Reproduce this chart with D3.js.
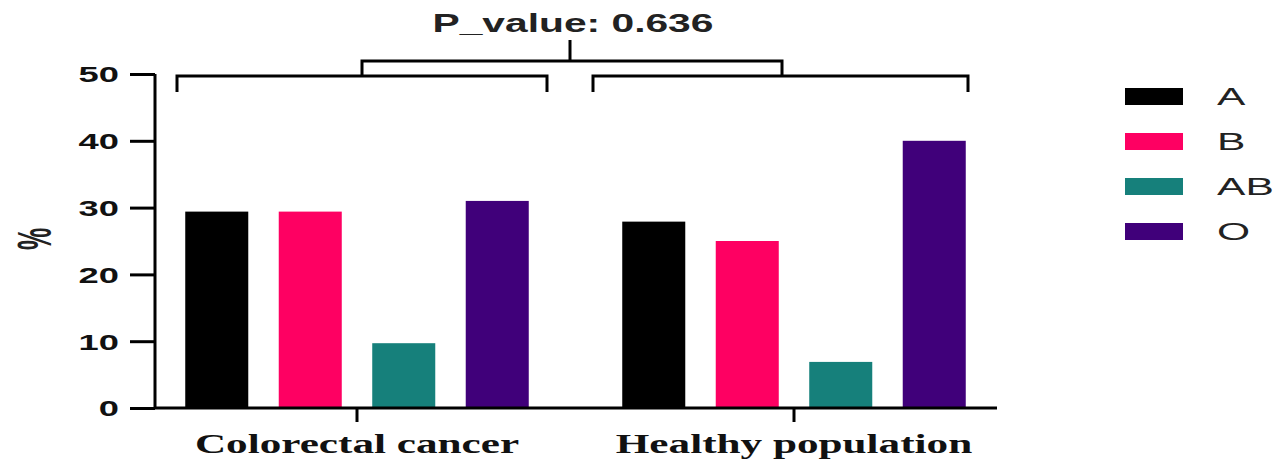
<!DOCTYPE html>
<html>
<head>
<meta charset="utf-8">
<script src="https://cdn.jsdelivr.net/npm/d3@7"></script>
<style>
  html, body { margin: 0; padding: 0; background: #fff; }
  svg { display: block; }
</style>
</head>
<body>
<svg id="chart" width="1286" height="464"></svg>
<script>
// ---- data ----
const groups = ["Colorectal cancer", "Healthy population"];
const bloodTypes = ["A", "B", "AB", "O"];
const colorectalValues = [29.4, 29.4, 9.7, 31.0];
const healthyValues = [27.9, 25.0, 6.9, 40.0];
const typeColors = ["#000000", "#fe0062", "#16807b", "#40007a"];
const yTicks = [0, 10, 20, 30, 40, 50];
const pValueLabel = "P_value: 0.636";

const seriesByGroup = [colorectalValues, healthyValues];
const rows = [];
groups.forEach((g, gi) => bloodTypes.forEach((t, ti) => rows.push({ group: g, type: t, value: seriesByGroup[gi][ti] })));

const svg = d3.select("#chart");
const sansFont = "'Liberation Sans', Arial, sans-serif";
const serifFont = "'Liberation Serif', 'Times New Roman', serif";

function stretch(sel, f) {
  sel.each(function () {
    const w = this.getComputedTextLength();
    d3.select(this).attr("textLength", w * f).attr("lengthAdjust", "spacingAndGlyphs");
  });
}

// ---- scales ----
const y = d3.scaleLinear().domain([0, 50]).range([408, 74]);
const x0 = d3.scaleBand().domain(groups).range([138.5, 1012.5]).padding(0);
const x1 = d3.scaleBand().domain(bloodTypes).range([0, x0.bandwidth()]).paddingInner(0.326).paddingOuter(0.5);
const color = d3.scaleOrdinal().domain(bloodTypes).range(typeColors);

const axisLeftX = 155, axisRightX = 997;

// ---- bars ----
svg.append("g").selectAll("rect").data(rows).join("rect")
  .attr("x", d => x0(d.group) + x1(d.type))
  .attr("width", x1.bandwidth())
  .attr("y", d => y(d.value))
  .attr("height", d => y(0) - y(d.value))
  .attr("fill", d => color(d.type));

// ---- y axis ----
const yAxis = svg.append("g").attr("transform", `translate(${axisLeftX},0)`)
  .call(d3.axisLeft(y).tickValues(yTicks).tickSize(25).tickPadding(11));
yAxis.select(".domain").attr("stroke", "#000").attr("stroke-width", 3).attr("d", `M0,${y(50)}V${y(0)}`);
yAxis.selectAll(".tick line").attr("stroke", "#000").attr("stroke-width", 3);
yAxis.selectAll(".tick text")
  .attr("font-family", sansFont).attr("font-weight", "bold").attr("font-size", 22)
  .attr("fill", "#111").attr("dy", "0.36em");
stretch(yAxis.selectAll(".tick text"), 1.65);

// y title
svg.append("text")
  .attr("transform", "translate(34,239) scale(1.9,1) rotate(-90)")
  .attr("text-anchor", "middle").attr("dy", "0.35em")
  .attr("font-family", sansFont).attr("font-weight", "bold").attr("font-size", 25)
  .attr("fill", "#222").text("%");

// ---- x axis ----
const xAxis = svg.append("g").attr("transform", `translate(0,${y(0)})`)
  .call(d3.axisBottom(x0).tickSize(14));
xAxis.select(".domain").attr("stroke", "#000").attr("stroke-width", 3).attr("d", `M${axisLeftX},0H${axisRightX}`);
xAxis.selectAll(".tick line").attr("stroke", "#000").attr("stroke-width", 3);
xAxis.selectAll(".tick text")
  .attr("y", 45).attr("dy", 0)
  .attr("font-family", serifFont).attr("font-weight", "bold").attr("font-size", 27)
  .attr("fill", "#111");
stretch(xAxis.selectAll(".tick text"), 1.6);

// ---- brackets ----
const bracketG = svg.append("g").attr("fill", "none").attr("stroke", "#000").attr("stroke-width", 3);
const lowY = 76, legBottom = 92, upY = 61;
// bracket extents relative to each group's band start
const bracketSpan = [[38.5, 408.5], [17.5, 392.5]];
groups.forEach((g, i) => {
  const a = x0(g) + bracketSpan[i][0], b = x0(g) + bracketSpan[i][1];
  bracketG.append("path").attr("d", `M${a},${legBottom}V${lowY}H${b}V${legBottom}`);
});
const mid = g => x0(g) + x0.bandwidth() / 2;
const upL = mid(groups[0]) + 5, upR = mid(groups[1]) - 12;
bracketG.append("path").attr("d", `M${upL},${lowY}V${upY}H${upR}V${lowY}`);
const centerX = 570;
bracketG.append("path").attr("d", `M${centerX},${upY}V${40}`);

const pText = svg.append("text")
  .attr("x", centerX + 3).attr("y", 32).attr("text-anchor", "middle")
  .attr("font-family", sansFont).attr("font-weight", "bold").attr("font-size", 25)
  .attr("fill", "#222").text(pValueLabel);
stretch(pText, 1.63);

// ---- legend ----
const legend = svg.append("g").attr("transform", "translate(1125,88)");
const items = legend.selectAll("g").data(bloodTypes).join("g")
  .attr("transform", (d, i) => `translate(0,${i * 45})`);
items.append("rect").attr("width", 58).attr("height", 17).attr("fill", d => color(d));
const lt = items.append("text").attr("x", 92).attr("y", 17)
  .attr("font-family", sansFont).attr("font-size", 23).attr("fill", "#222")
  .text(d => d);
stretch(lt, 1.85);
</script>
</body>
</html>
